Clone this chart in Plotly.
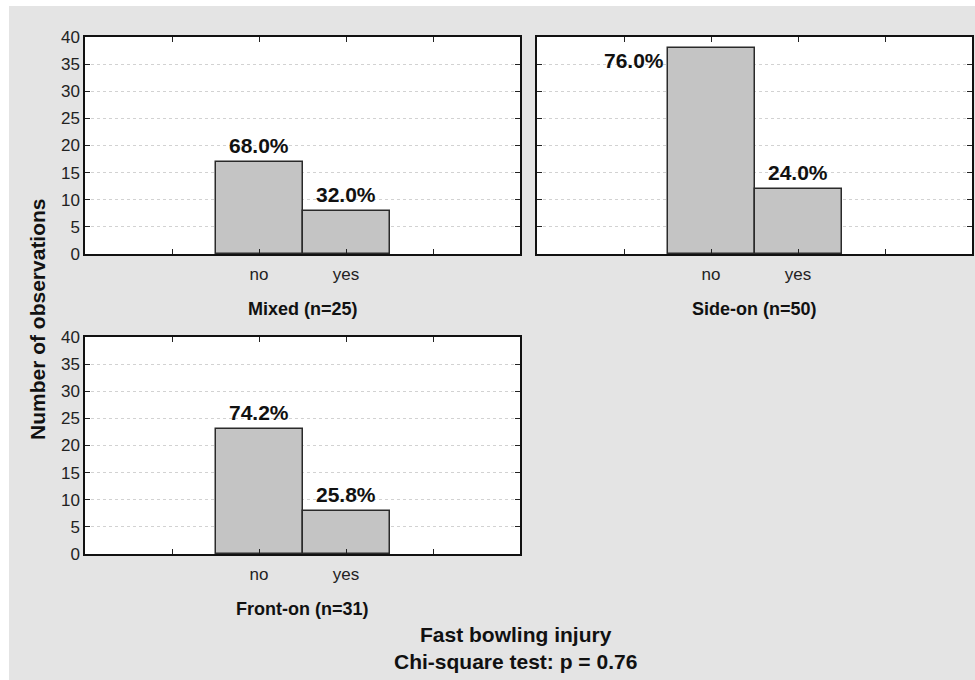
import plotly.graph_objects as go

# ---- data ----
categories = ["no", "yes"]
group_titles = ["Mixed (n=25)", "Side-on (n=50)", "Front-on (n=31)"]
counts_mixed = [17, 8]
counts_side = [38, 12]
counts_front = [23, 8]
pct_mixed = ["68.0%", "32.0%"]
pct_side = ["76.0%", "24.0%"]
pct_front = ["74.2%", "25.8%"]
y_ticks = [0, 5, 10, 15, 20, 25, 30, 35, 40]
y_title = "Number of observations"
bottom_title = "Fast bowling injury<br>Chi-square test: p = 0.76"

W, H = 975, 680
FONT = "Liberation Sans, Arial, sans-serif"

def px_x(x):
    return x / W

def px_y(y):
    return 1 - y / H

panels = [
    (85, 520, 37, 254),
    (537, 972, 37, 254),
    (85, 520, 337, 554),
]
series = [(counts_mixed, pct_mixed), (counts_side, pct_side), (counts_front, pct_front)]

fig = go.Figure()
annotations = []
xpos = list(range(len(categories)))

for i, ((l, r, t, b), (counts, pcts)) in enumerate(zip(panels, series)):
    sfx = "" if i == 0 else str(i + 1)
    fig.add_trace(go.Bar(
        x=xpos, y=counts, width=1,
        xaxis="x" + sfx, yaxis="y" + sfx,
        marker=dict(
            color="#c6c6c6",
            line=dict(color="#2a2a2a", width=1.5),
            pattern=dict(shape=".", size=2, solidity=0.5,
                         fgcolor="#acacac", bgcolor="#d8d8d8", fillmode="replace"),
        ),
        showlegend=False, hoverinfo="skip",
    ))
    axx = dict(
        domain=[px_x(l), px_x(r)], range=[-2, 3], anchor="y" + sfx,
        tickmode="array", tickvals=[-1, 0, 1, 2], ticktext=["", categories[0], categories[1], ""],
        ticks="inside", ticklen=5, tickcolor="#222", tickwidth=1,
        showline=True, linecolor="#111", linewidth=1.5, mirror="ticks",
        showgrid=False, zeroline=False, fixedrange=True, automargin=False,
        ticklabelstandoff=4,
        tickfont=dict(family=FONT, size=17, color="#222"),
    )
    axy = dict(
        domain=[px_y(b), px_y(t)], range=[0, 40], anchor="x" + sfx,
        tickmode="array", tickvals=y_ticks,
        ticktext=[str(v) if i != 1 else "" for v in y_ticks],
        ticks="inside", ticklen=5, tickcolor="#222", tickwidth=1,
        showline=True, linecolor="#111", linewidth=1.5, mirror="ticks",
        showgrid=True, gridcolor="#d2d2d2", griddash="dot", gridwidth=1,
        zeroline=False, fixedrange=True, automargin=False,
        tickfont=dict(family=FONT, size=17, color="#222"),
    )
    fig.update_layout(**{"xaxis" + sfx: axx, "yaxis" + sfx: axy})

    annotations.append(dict(
        text="<b>%s</b>" % group_titles[i], xref="paper", yref="paper",
        x=px_x((l + r) / 2), y=px_y(b + 55), xanchor="center", yanchor="middle",
        showarrow=False, font=dict(family=FONT, size=18, color="#111"),
    ))
    for xi, (c, p) in enumerate(zip(counts, pcts)):
        if c > 34:
            annotations.append(dict(
                text="<b>%s</b>" % p, xref="x" + sfx, yref="y" + sfx,
                x=xpos[xi] - 0.5, y=c, xanchor="right", yanchor="top",
                xshift=-2, yshift=1, showarrow=False,
                font=dict(family=FONT, size=21, color="#111"),
            ))
        else:
            annotations.append(dict(
                text="<b>%s</b>" % p, xref="x" + sfx, yref="y" + sfx,
                x=xpos[xi], y=c, xanchor="center", yanchor="bottom",
                yshift=3, showarrow=False,
                font=dict(family=FONT, size=21, color="#111"),
            ))

annotations.append(dict(
    text="<b>%s</b>" % y_title, xref="paper", yref="paper",
    x=px_x(37), y=px_y(319), xanchor="center", yanchor="middle", textangle=-90,
    showarrow=False, font=dict(family=FONT, size=21, color="#111"),
))
annotations.append(dict(
    text="<b>%s</b>" % bottom_title, xref="paper", yref="paper",
    x=px_x(515), y=px_y(648), xanchor="center", yanchor="middle",
    showarrow=False, font=dict(family=FONT, size=21, color="#111"),
))

fig.update_layout(
    width=W, height=H, margin=dict(l=0, r=0, t=0, b=0, autoexpand=False),
    paper_bgcolor="#e4e4e4", plot_bgcolor="#ffffff",
    annotations=annotations, bargap=0,
    shapes=[
        dict(type="rect", xref="paper", yref="paper", x0=0, x1=px_x(9), y0=0, y1=1,
             fillcolor="#ffffff", line=dict(width=0), layer="below"),
        dict(type="rect", xref="paper", yref="paper", x0=0, x1=1, y0=px_y(6), y1=1,
             fillcolor="#ffffff", line=dict(width=0), layer="below"),
    ],
)

fig.write_html("out.html", config={"displayModeBar": False},
               post_script="document.body.style.margin='0px';")
